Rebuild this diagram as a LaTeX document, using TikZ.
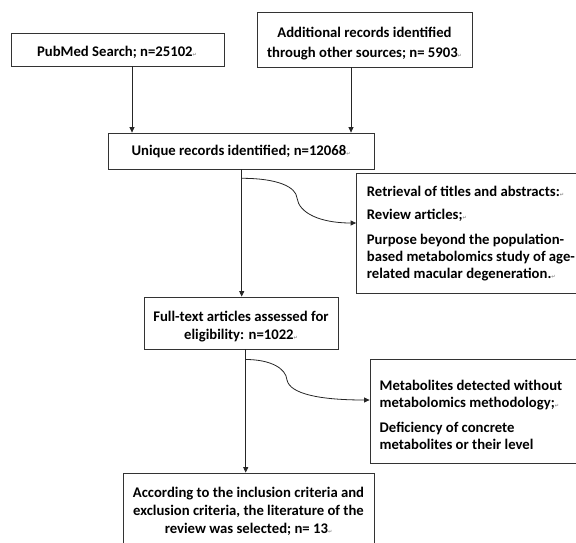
\documentclass[tikz,border=0pt]{standalone}
\usepackage{fontspec}
\setmainfont{Carlito}
\newfontfamily\symfont{DejaVu Sans}
\usetikzlibrary{arrows.meta}
\newcommand\pmk{{\symfont\fontsize{5}{5}\selectfont\textcolor{black!45}{↵}}}
\begin{document}
\begin{tikzpicture}[x=1pt,y=-1pt,
  font=\bfseries\fontsize{14.7}{16.7}\selectfont,
  box/.style={draw=black!80, line width=0.8pt, inner sep=0pt},
  txt/.style={inner sep=0pt},
  arr/.style={draw=black!85, line width=0.8pt, -{Triangle[length=5.5pt,width=5pt]}}]
\useasboundingbox (0,0) rectangle (576,542);
\clip (0,0) rectangle (576,542);
% boxes
\node[box, minimum width=212.5pt, minimum height=33pt] (pub) at (117.75,49.5) {};
\node[box, minimum width=215pt, minimum height=55pt] (add) at (364.5,39.5) {};
\node[box, minimum width=266pt, minimum height=36pt] (uniq) at (241,151) {};
\node[box, minimum width=234pt, minimum height=120pt] (ex1) at (473.5,233.5) {};
\node[box, minimum width=194pt, minimum height=52pt] (full) at (241,323) {};
\node[box, minimum width=220pt, minimum height=104pt] (ex2) at (480,411) {};
\node[box, minimum width=251pt, minimum height=100pt] (fin) at (248.5,523) {};
% texts
\node[txt, anchor=base] (pubt) at (117,56.2) {PubMed Search; n=25102\pmk};
\node[txt, anchor=base, align=center, font=\bfseries\fontsize{14.7}{20}\selectfont] (addt) at (364.5,57.3) {Additional records identified\\ through other sources; n= 5903\pmk};
\node[txt, anchor=base] (uniqt) at (241,155.5) {Unique records identified; n=12068\pmk};
\begin{scope}
\clip (144,297) rectangle (338,341);
\node[txt, anchor=base, align=center, font=\bfseries\fontsize{14.7}{18}\selectfont] (fullt) at (241,339.5) {Full-text articles assessed for\\ eligibility: n=1022\pmk};
\end{scope}
\node[txt, anchor=base west, align=left] (ex1t) at (366.7,278) {Retrieval of titles and abstracts:\pmk\\[6.8pt] Review articles;\pmk\\[8.3pt] Purpose beyond the population-\\ based metabolomics study of age-\\ related macular degeneration.\pmk};
\node[txt, anchor=base west, align=left] (ex2t) at (379.5,449) {Metabolites detected without\\ metabolomics methodology;\pmk\\[8.6pt] Deficiency of concrete\\ metabolites or their level};
\node[txt, anchor=base, align=center, font=\bfseries\fontsize{14.7}{18}\selectfont] (fint) at (248.5,533.5) {According to the inclusion criteria and\\ exclusion criteria, the literature of the\\ review was selected; n= 13\pmk};
% connectors
\draw[arr] (pub.south -| 132,0) -- (uniq.north -| 132,0);
\draw[arr] (add.south -| 351,0) -- (uniq.north -| 351,0);
\draw[arr] (uniq.south -| 241.7,0) -- (full.north -| 241.7,0);
\draw[arr] (full.south -| 245.7,0) -- (fin.north -| 245.7,0);
\coordinate (c1) at (241.7,178.3);
\coordinate (c2) at (245.7,359.5);
\draw[arr] (c1) .. controls (278,178.3) and (296,187) .. (297,198) .. controls (299,213) and (320,223) .. (ex1.west |- 0,223);
\draw[arr] (c2) .. controls (270,359.5) and (286,368) .. (287,380) .. controls (290,394) and (320,400) .. (ex2.west |- 0,400);
\end{tikzpicture}
\end{document}
